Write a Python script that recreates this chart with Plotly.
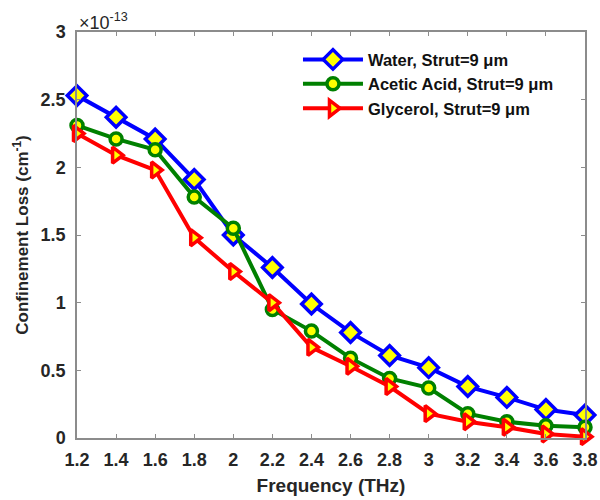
import plotly.graph_objects as go

freq = [1.2, 1.4, 1.6, 1.8, 2.0, 2.2, 2.4, 2.6, 2.8, 3.0, 3.2, 3.4, 3.6, 3.8]
water = [2.53, 2.37, 2.21, 1.91, 1.50, 1.26, 0.99, 0.78, 0.61, 0.52, 0.38, 0.30, 0.21, 0.17]
acetic = [2.31, 2.21, 2.13, 1.78, 1.55, 0.95, 0.79, 0.59, 0.44, 0.37, 0.18, 0.12, 0.09, 0.08]
glycerol = [2.25, 2.09, 1.98, 1.48, 1.23, 1.00, 0.67, 0.53, 0.38, 0.18, 0.12, 0.08, 0.03, 0.01]
names = ["Water, Strut=9 μm", "Acetic Acid, Strut=9 μm", "Glycerol, Strut=9 μm"]
xticks = [1.2, 1.4, 1.6, 1.8, 2, 2.2, 2.4, 2.6, 2.8, 3, 3.2, 3.4, 3.6, 3.8]
yticks = [0, 0.5, 1, 1.5, 2, 2.5, 3]

FONT = "Liberation Sans, Arial"
TXT = "#262626"

fig = go.Figure()
styles = [("#0000ff", "diamond", 15), ("#008000", "circle", 12), ("#ff0000", "triangle-right", 14)]
for ys, nm, (c, sym, sz) in zip([water, acetic, glycerol], names, styles):
    fig.add_trace(go.Scatter(
        x=freq, y=ys, name=nm, mode="lines+markers",
        line=dict(color=c, width=4),
        marker=dict(symbol=sym, size=sz, color="#ffff00", line=dict(color=c, width=3.5)),
        cliponaxis=False,
    ))

axis_common = dict(showgrid=False, zeroline=False, showline=True, linecolor="#8c8c8c",
                   linewidth=1.5, mirror="ticks", ticks="inside", ticklen=4, tickcolor="#8c8c8c",
                   automargin=False,
                   tickfont=dict(family=FONT, size=18, color=TXT, weight="bold"))
fig.update_xaxes(range=[1.2, 3.8], tickvals=xticks, ticktext=[f"{v:g}" for v in xticks],
                 ticklabelstandoff=5,
                 title=dict(text="Frequency (THz)", font=dict(family=FONT, size=19, color=TXT, weight="bold"), standoff=9),
                 **axis_common)
fig.update_yaxes(range=[0, 3], tickvals=yticks, ticktext=[f"{v:g}" for v in yticks],
                 ticklabelstandoff=6,
                 title=dict(text="Confinement Loss (cm<sup>-1</sup>)", font=dict(family=FONT, size=17, color=TXT, weight="bold"), standoff=8),
                 **axis_common)

fig.update_layout(
    width=600, height=500, plot_bgcolor="white", paper_bgcolor="white",
    margin=dict(l=77, r=15, t=32, b=62),
    font=dict(family=FONT, size=17, color=TXT, weight="bold"),
    legend=dict(x=0.435, y=0.975, xanchor="left", yanchor="top", bgcolor="rgba(255,255,255,0)",
                font=dict(family=FONT, size=16.5, color="#111111", weight="bold"),
                itemwidth=60, tracegroupgap=0),
    showlegend=True,
)
fig.add_annotation(text="×10<sup>-13</sup>", xref="paper", yref="paper", x=0, y=1, xanchor="left",
                   yanchor="bottom", showarrow=False,
                   font=dict(family=FONT, size=18, color=TXT, weight="normal"), yshift=-3)

fig.write_html("out.html")
